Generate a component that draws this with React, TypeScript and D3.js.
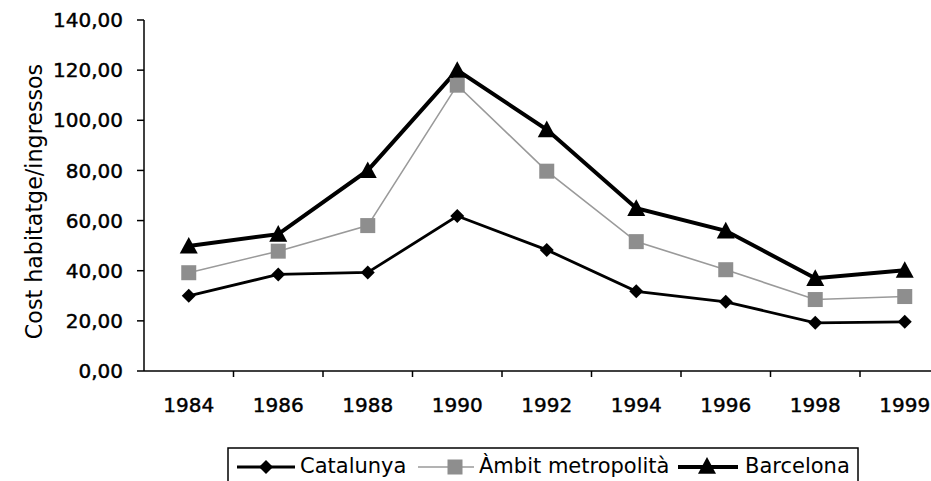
import React from "react";
import * as d3 from "d3";

const years = ["1984", "1986", "1988", "1990", "1992", "1994", "1996", "1998", "1999"];
const catalunya = [30, 38.5, 39.3, 61.8, 48.3, 31.8, 27.6, 19.2, 19.6];
const ambit = [39.2, 47.8, 58, 114, 79.7, 51.6, 40.4, 28.5, 29.7];
const barcelona = [49.9, 54.6, 80, 120, 96.3, 64.9, 55.9, 37, 40.2];
const yTicks = [0, 20, 40, 60, 80, 100, 120, 140];
const seriesNames = ["Catalunya", "Àmbit metropolità", "Barcelona"];

const FONT = "'DejaVu Sans', Verdana, sans-serif";

export default function App() {
  const W = 931, H = 481;
  const left = 144, bandW = 89.5;
  const x = d3.scaleBand<string>().domain(years).range([left, left + bandW * years.length]).padding(0);
  const y = d3.scaleLinear().domain([0, 140]).range([371, 20]);
  const fmt = (v: number) => d3.format(".2f")(v).replace(".", ",");
  const cx = (d: string) => (x(d) as number) + x.bandwidth() / 2;
  const line = d3.line<number>().x((_, i) => cx(years[i])).y((v) => y(v));

  const diamond = (px: number, py: number, r = 7, k?: string) => (
    <path key={k} d={`M${px},${py - r}L${px + r},${py}L${px},${py + r}L${px - r},${py}Z`} fill="#000" />
  );
  const square = (px: number, py: number, s = 7.5, k?: string) => (
    <rect key={k} x={px - s} y={py - s} width={2 * s} height={2 * s} fill="#8e8e8e" />
  );
  const tri = (px: number, py: number, s = 9, k?: string) => (
    <path key={k} d={`M${px},${py - s}L${px + s},${py + s * 0.85}L${px - s},${py + s * 0.85}Z`} fill="#000" />
  );

  const bandEdges = years.map((_, i) => left + bandW * (i + 1));
  const tickTextProps = { fontSize: 20, fill: "#000", stroke: "#000", strokeWidth: 0.45 };

  return (
    <svg width={W} height={H} style={{ position: "absolute", left: 0, top: 0, background: "#fff" }} fontFamily={FONT}>
      <rect x={0} y={0} width={W} height={H} fill="#fff" />
      {/* Y axis */}
      <line x1={left} y1={y(140)} x2={left} y2={y(0)} stroke="#000" strokeWidth={1.5} />
      {yTicks.map((t) => (
        <g key={t}>
          <line x1={left - 7} x2={left} y1={y(t)} y2={y(t)} stroke="#000" strokeWidth={1.5} />
          <text x={123} y={y(t)} dy="0.36em" textAnchor="end" {...tickTextProps}>
            {fmt(t)}
          </text>
        </g>
      ))}
      <text
        transform={`translate(42,201.5) rotate(-90)`}
        textAnchor="middle"
        fontSize={22.2}
        fill="#000"
      >
        Cost habitatge/ingressos
      </text>
      {/* X axis */}
      <line x1={left} y1={y(0)} x2={W} y2={y(0)} stroke="#000" strokeWidth={1.5} />
      {bandEdges.map((e, i) => (
        <line key={i} x1={e} x2={e} y1={y(0)} y2={y(0) + 6} stroke="#000" strokeWidth={1.5} />
      ))}
      {years.map((yr) => (
        <text key={yr} x={cx(yr)} y={412} textAnchor="middle" {...tickTextProps}>
          {yr}
        </text>
      ))}
      {/* Series */}
      <path d={line(catalunya) || ""} fill="none" stroke="#000" strokeWidth={2.8} />
      <path d={line(ambit) || ""} fill="none" stroke="#9a9a9a" strokeWidth={1.6} />
      <path d={line(barcelona) || ""} fill="none" stroke="#000" strokeWidth={4} />
      {catalunya.map((v, i) => diamond(cx(years[i]), y(v), 7, "c" + i))}
      {ambit.map((v, i) => square(cx(years[i]), y(v), 7.5, "a" + i))}
      {barcelona.map((v, i) => tri(cx(years[i]), y(v), 9, "b" + i))}
      {/* Legend */}
      <rect x={228} y={448} width={630} height={60} fill="#fff" stroke="#000" strokeWidth={1.5} />
      <line x1={237} x2={295} y1={467} y2={467} stroke="#000" strokeWidth={2.8} />
      {diamond(266, 467, 7)}
      <text x={300} y={473} fontSize={21} fill="#000">{seriesNames[0]}</text>
      <line x1={418} x2={474} y1={467} y2={467} stroke="#9a9a9a" strokeWidth={1.6} />
      {square(455, 467, 7.5)}
      <text x={479} y={473} fontSize={21} fill="#000">{seriesNames[1]}</text>
      <line x1={678} x2={738} y1={467} y2={467} stroke="#000" strokeWidth={4} />
      {tri(707, 466, 9)}
      <text x={745} y={473} fontSize={21} fill="#000">{seriesNames[2]}</text>
    </svg>
  );
}
